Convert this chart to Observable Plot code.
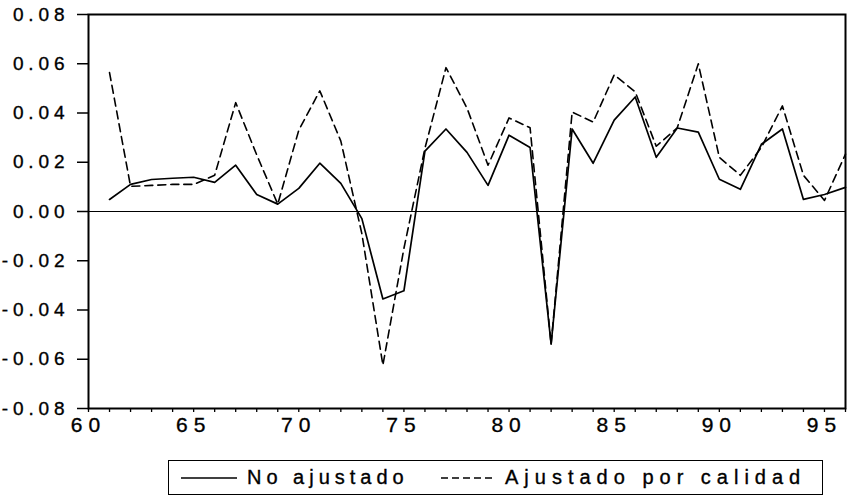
<!DOCTYPE html>
<html>
<head>
<meta charset="utf-8">
<script src="https://cdn.jsdelivr.net/npm/d3@7"></script>
<script src="https://cdn.jsdelivr.net/npm/@observablehq/plot@0.6"></script>
<style>
  html, body { margin: 0; padding: 0; background: #fff; }
  #wrap { position: relative; width: 851px; height: 502px; overflow: hidden; font-family: "Liberation Sans", Arial, sans-serif; }
  #chart svg g[aria-label="y-axis tick label"] text { letter-spacing: 4.9px; stroke: #000; stroke-width: 0.35px; }
  #chart svg g[aria-label="x-axis tick label"] text { letter-spacing: 6px; stroke: #000; stroke-width: 0.35px; }
  #legend { position: absolute; left: 168px; top: 460px; width: 655px; height: 35px; border: 1.5px solid #000; box-sizing: border-box; }
  #legend .item { position: absolute; top: 0; height: 100%; display: flex; align-items: center; font-size: 20px; letter-spacing: 5px; color: #000; -webkit-text-stroke: 0.35px #000; }
</style>
</head>
<body>
<div id="wrap">
  <div id="chart"></div>
  <div id="legend">
    <div class="item" style="left:12px"><svg width="56" height="10"><line x1="0" x2="56" y1="5" y2="5" stroke="#000" stroke-width="1.5"/></svg><span style="margin-left:10px" id="lab0"></span></div>
    <div class="item" style="left:272px"><svg width="52" height="10"><line x1="0" x2="52" y1="5" y2="5" stroke="#000" stroke-width="1.5" stroke-dasharray="7,4"/></svg><span style="margin-left:12px; letter-spacing:6px" id="lab1"></span></div>
  </div>
</div>
<script>
const years = [61,62,63,64,65,66,67,68,69,70,71,72,73,74,75,76,77,78,79,80,81,82,83,84,85,86,87,88,89,90,91,92,93,94,95,96];
const noAjustado = [0.0049,0.011,0.013,0.0135,0.0139,0.0118,0.0188,0.0069,0.003,0.0094,0.0196,0.0114,-0.0029,-0.0355,-0.0322,0.0245,0.0335,0.024,0.0106,0.031,0.026,-0.0539,0.0335,0.0196,0.0371,0.0465,0.022,0.0339,0.0322,0.0131,0.009,0.0273,0.0335,0.0049,0.0069,0.0098];
const ajustado = [0.0564,0.0102,0.0106,0.011,0.011,0.0147,0.0442,0.023,0.003,0.033,0.049,0.0286,-0.009,-0.0624,-0.015,0.0257,0.0584,0.042,0.0188,0.038,0.034,-0.0539,0.0404,0.0363,0.0555,0.0486,0.0265,0.034,0.060,0.022,0.0147,0.026,0.0429,0.0147,0.0045,0.0233];
const seriesNames = ["No ajustado", "Ajustado por calidad"];
const yTicks = [-0.08,-0.06,-0.04,-0.02,0,0.02,0.04,0.06,0.08];
const xLabelTicks = [60,65,70,75,80,85,90,95];
const xMinorTicks = d3.range(60, 97);

const rows0 = years.map((y, i) => ({year: y, value: noAjustado[i]}));
const rows1 = years.map((y, i) => ({year: y, value: ajustado[i]}));
const fmtY = d => (d < 0 ? "-" : "") + Math.abs(d).toFixed(2);

const chart = Plot.plot({
  width: 851,
  height: 445,
  marginLeft: 88,
  marginRight: 6,
  marginTop: 14,
  marginBottom: 37,
  style: {fontFamily: "'Liberation Sans', Arial, sans-serif", background: "#fff", color: "#000"},
  x: {domain: [60, 96]},
  y: {domain: [-0.08, 0.08]},
  marks: [
    Plot.ruleY([0], {stroke: "#000", strokeWidth: 1}),
    Plot.line(rows1, {x: "year", y: "value", stroke: "#000", strokeWidth: 1.6, strokeDasharray: "8,5"}),
    Plot.line(rows0, {x: "year", y: "value", stroke: "#000", strokeWidth: 1.7}),
    Plot.axisY(yTicks, {tickSize: 11, tickPadding: 8, fontSize: 19, tickFormat: fmtY, label: null, strokeWidth: 1.5}),
    Plot.axisX(xMinorTicks, {tickSize: 4, tickFormat: () => "", label: null, strokeWidth: 1.3}),
    Plot.axisX(xLabelTicks, {tickSize: 0, tickPadding: 9, fontSize: 21, tickFormat: d => String(d), label: null}),
    Plot.frame({stroke: "#000", strokeWidth: 2})
  ]
});
document.getElementById("chart").appendChild(chart);
document.getElementById("lab0").textContent = seriesNames[0];
document.getElementById("lab1").textContent = seriesNames[1];
</script>
</body>
</html>
